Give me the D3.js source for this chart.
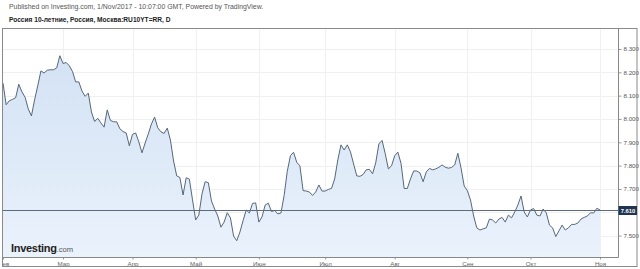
<!DOCTYPE html>
<html>
<head>
<meta charset="utf-8">
<script src="https://cdnjs.cloudflare.com/ajax/libs/d3/7.8.5/d3.min.js"></script>
<style>
body { margin: 0; background: #fff; }
svg { display: block; font-family: "Liberation Sans", Arial, sans-serif; }
</style>
</head>
<body>
<div id="chart"></div>
<script>
// Russia 10Y yield, trading days 1 Feb - 1 Nov 2017
var yields = [
	8.154, 8.061, 8.078, 8.084, 8.091, 8.149, 8.116, 8.093, 8.043, 8.013,
	8.082, 8.142, 8.206, 8.197, 8.209, 8.211, 8.211, 8.219, 8.271, 8.238,
	8.242, 8.228, 8.204, 8.159, 8.159, 8.120, 8.097, 8.111, 8.030, 7.989,
	8.003, 7.983, 7.965, 8.039, 7.994, 7.988, 7.988, 7.958, 7.946, 7.940,
	7.885, 7.934, 7.940, 7.902, 7.855, 7.897, 7.936, 7.979, 8.008, 7.962,
	7.945, 7.938, 7.961, 7.910, 7.820, 7.756, 7.749, 7.674, 7.748, 7.742,
	7.653, 7.567, 7.588, 7.679, 7.731, 7.727, 7.648, 7.614, 7.584, 7.536,
	7.558, 7.598, 7.576, 7.498, 7.478, 7.515, 7.564, 7.610, 7.597, 7.638,
	7.640, 7.558, 7.580, 7.631, 7.639, 7.603, 7.608, 7.593, 7.597, 7.672,
	7.776, 7.843, 7.857, 7.814, 7.799, 7.693, 7.691, 7.687, 7.672, 7.687,
	7.717, 7.691, 7.691, 7.698, 7.702, 7.743, 7.824, 7.889, 7.867, 7.889,
	7.859, 7.807, 7.756, 7.754, 7.762, 7.782, 7.784, 7.765, 7.812, 7.893,
	7.908, 7.852, 7.786, 7.799, 7.842, 7.858, 7.810, 7.702, 7.702, 7.743,
	7.777, 7.777, 7.769, 7.731, 7.773, 7.788, 7.782, 7.786, 7.793, 7.803,
	7.793, 7.789, 7.792, 7.803, 7.853, 7.790, 7.713, 7.693, 7.653, 7.584,
	7.533, 7.524, 7.529, 7.533, 7.571, 7.567, 7.554, 7.571, 7.578, 7.558,
	7.588, 7.576, 7.601, 7.631, 7.670, 7.601, 7.580, 7.610, 7.616, 7.588,
	7.584, 7.614, 7.597, 7.545, 7.533, 7.496, 7.520, 7.545, 7.524, 7.533,
	7.548, 7.548, 7.554, 7.571, 7.578, 7.584, 7.598, 7.597, 7.617, 7.610
];
var monthLabels = ['Фев', 'Мар', 'Апр', 'Май', 'Июн', 'Июл', 'Авг', 'Сен', 'Окт', 'Ноя'];
var monthDays = [0, 19, 41, 61, 81, 102, 124, 147, 167, 189];
var gridTicks = [7.5, 7.6, 7.7, 7.8, 7.9, 8.0, 8.1, 8.2, 8.3];
var yTicks = [7.5, 7.7, 7.8, 7.9, 8.0, 8.1, 8.2, 8.3]; // 7.600 sits under the last-price box
var lastValue = 7.610;

var width = 640, height = 269;
var plot = {left: 3, right: 618, top: 29, bottom: 257};

var svg = d3.select('#chart').append('svg')
	.attr('width', width)
	.attr('height', height);

var x = d3.scaleLinear().domain([0, yields.length - 1]).range([3, 600]);
var y = d3.scaleLinear().domain([7.5, 8.3]).range([235.6, 49]);

var defs = svg.append('defs');
var grad = defs.append('linearGradient')
	.attr('id', 'fillGrad')
	.attr('x1', 0).attr('y1', 0).attr('x2', 0).attr('y2', 1);
grad.append('stop').attr('offset', '0%').attr('stop-color', '#d3e2f4');
grad.append('stop').attr('offset', '100%').attr('stop-color', '#eaf2fc');

defs.append('clipPath').attr('id', 'plotClip')
	.append('rect')
	.attr('x', plot.left).attr('y', plot.top)
	.attr('width', plot.right - plot.left).attr('height', 240);

/* header */
svg.append('text')
	.attr('x', 9).attr('y', 9)
	.attr('font-size', 6.9)
	.attr('fill', '#555')
	.text('Published on Investing.com, 1/Nov/2017 - 10:07:00 GMT, Powered by TradingView.');

svg.append('text')
	.attr('x', 9).attr('y', 21.5)
	.attr('font-size', 6.6)
	.attr('font-weight', 'bold')
	.attr('fill', '#222')
	.text('Россия 10-летние, Россия, Москва:RU10YT=RR, D');

/* grid */
svg.append('g')
	.selectAll('line')
	.data(gridTicks)
	.enter().append('line')
	.attr('x1', plot.left).attr('x2', plot.right)
	.attr('y1', function(d) { return Math.round(y(d)) + 0.5; })
	.attr('y2', function(d) { return Math.round(y(d)) + 0.5; })
	.attr('stroke', '#f0f0f0');

svg.append('g')
	.selectAll('line')
	.data(monthDays.slice(1))
	.enter().append('line')
	.attr('x1', function(d) { return Math.round(x(d)) + 0.5; })
	.attr('x2', function(d) { return Math.round(x(d)) + 0.5; })
	.attr('y1', plot.top).attr('y2', plot.bottom)
	.attr('stroke', '#f0f0f0');

/* area + line */
var area = d3.area()
	.x(function(d, i) { return x(i); })
	.y0(plot.bottom)
	.y1(function(d) { return y(d); });

var line = d3.line()
	.x(function(d, i) { return x(i); })
	.y(function(d) { return y(d); });

var g = svg.append('g').attr('clip-path', 'url(#plotClip)');

g.append('path')
	.datum(yields)
	.attr('d', area)
	.attr('fill', 'url(#fillGrad)');

g.append('path')
	.datum(yields)
	.attr('d', line)
	.attr('fill', 'none')
	.attr('stroke', '#56677a')
	.attr('stroke-width', 1)
	.attr('stroke-linejoin', 'round');

/* last price line */
svg.append('line')
	.attr('x1', plot.left).attr('x2', plot.right)
	.attr('y1', Math.round(y(lastValue)) + 0.5)
	.attr('y2', Math.round(y(lastValue)) + 0.5)
	.attr('stroke', '#5b6b7b')
	.attr('stroke-width', 1);

/* logo */
var logo = svg.append('text')
	.attr('x', 11).attr('y', 252);
logo.append('tspan')
	.attr('font-size', 11)
	.attr('font-weight', 'bold')
	.attr('fill', '#222')
	.attr('letter-spacing', -0.3)
	.text('Investing');
logo.append('tspan')
	.attr('font-size', 7.6)
	.attr('fill', '#555')
	.text('.com');

/* right axis */
var yAxis = d3.axisRight(y)
	.tickValues(yTicks)
	.tickSize(3)
	.tickPadding(2)
	.tickFormat(d3.format('.3f'));

var ya = svg.append('g')
	.attr('transform', 'translate(' + (plot.right + 0.5) + ',0)')
	.call(yAxis);
ya.select('.domain').remove();
ya.selectAll('line').attr('stroke', '#999');
ya.selectAll('text')
	.attr('font-size', 6.2)
	.attr('fill', '#555')
	.attr('font-family', '"Liberation Sans", Arial, sans-serif');

/* bottom axis */
var xAxis = d3.axisBottom(x)
	.tickValues(monthDays)
	.tickSize(2)
	.tickPadding(2)
	.tickFormat(function(d, i) { return monthLabels[i]; });

var xa = svg.append('g')
	.attr('transform', 'translate(0,' + (plot.bottom + 0.5) + ')')
	.call(xAxis);
xa.select('.domain').remove();
xa.selectAll('line').attr('stroke', '#999');
xa.selectAll('text')
	.attr('font-size', 6.2)
	.attr('fill', '#666')
	.attr('font-family', '"Liberation Sans", Arial, sans-serif');

/* frame */
svg.append('line')
	.attr('x1', plot.left).attr('x2', plot.right + 0.5)
	.attr('y1', plot.bottom + 0.5).attr('y2', plot.bottom + 0.5)
	.attr('stroke', '#888');
svg.append('line')
	.attr('x1', plot.right + 0.5).attr('x2', plot.right + 0.5)
	.attr('y1', plot.top).attr('y2', plot.bottom + 0.5)
	.attr('stroke', '#888');
svg.append('rect')
	.attr('x', 0).attr('y', 258).attr('width', 2.5).attr('height', 10)
	.attr('fill', '#fff');
svg.append('rect')
	.attr('x', 2.5).attr('y', 28.5)
	.attr('width', 634.5).attr('height', 238)
	.attr('fill', 'none')
	.attr('stroke', '#8a8a8a');

/* last value label */
var ly = Math.round(y(lastValue)) + 0.5;
svg.append('rect')
	.attr('x', plot.right + 0.5).attr('y', ly - 4.5)
	.attr('width', 18.5).attr('height', 9)
	.attr('fill', '#1f3450');
svg.append('text')
	.attr('x', plot.right + 10).attr('y', ly + 2.2)
	.attr('text-anchor', 'middle')
	.attr('font-size', 5.8)
	.attr('font-weight', 'bold')
	.attr('fill', '#fff')
	.text(d3.format('.3f')(lastValue));
</script>
</body>
</html>
